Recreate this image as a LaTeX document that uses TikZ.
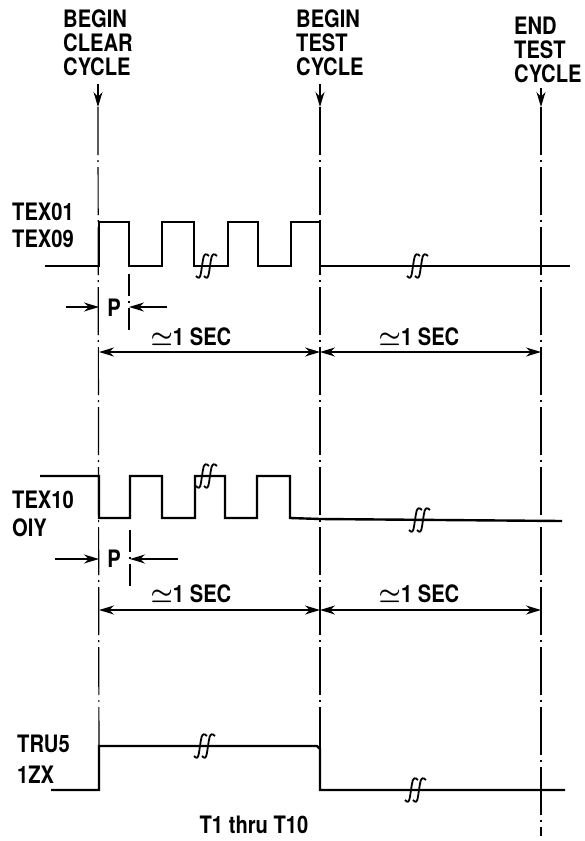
\documentclass[tikz,border=0pt]{standalone}
\usepackage{amsmath}
\usepackage{fontspec}
\setmainfont{TeX Gyre Heros}[FakeStretch=0.84]
\usetikzlibrary{arrows.meta}
\newcommand\brkmark[2]{%
  \begin{scope}[shift={(#1,#2)}]
    \draw[brk] (-11,10) .. controls (-6,16) and (-6,5) .. (-5,0) .. controls (-4,-5) and (-4,-16) .. (2,-10);
    \draw[brk] (-3,10) .. controls (2,16) and (2,5) .. (3,0) .. controls (4,-5) and (4,-16) .. (10,-10);
  \end{scope}}
\begin{document}
\begin{tikzpicture}[x=1pt,y=-1pt,
  sig/.style={line width=2.4pt, line join=miter},
  guide/.style={line width=1.2pt, dash pattern=on 48pt off 5pt on 2pt off 5pt},
  pguide/.style={line width=1.2pt, dash pattern=on 22pt off 5pt on 2pt off 5pt},
  dim/.style={line width=1.4pt},
  tip/.style={-{Stealth[length=15pt,width=9pt]}},
  dtip/.style={{Stealth[length=15pt,width=9pt]}-{Stealth[length=15pt,width=9pt]}},
  brk/.style={line width=1.8pt},
  lbl/.style={font=\fontsize{24}{28}\selectfont\bfseries, inner sep=0pt, anchor=west},
  clbl/.style={font=\fontsize{24}{28}\selectfont\bfseries, inner sep=0pt, anchor=center}]
\useasboundingbox (0,0) rectangle (584,841);

% top labels
\node[lbl] (bc1) at (63,19) {BEGIN};
\node[lbl] (bc2) at (63,43) {CLEAR};
\node[lbl] (bc3) at (63,67) {CYCLE};
\node[lbl] (bt1) at (296,19) {BEGIN};
\node[lbl] (bt2) at (296,43) {TEST};
\node[lbl] (bt3) at (296,67) {CYCLE};
\node[lbl] (et1) at (514,26) {END};
\node[lbl] (et2) at (514,50) {TEST};
\node[lbl] (et3) at (514,74) {CYCLE};

% cycle arrows
\coordinate (a1s) at (98,84);  \coordinate (a1e) at (98,107);
\coordinate (a2s) at (320,84); \coordinate (a2e) at (320,107);
\coordinate (a3s) at (541,88); \coordinate (a3e) at (541,107);
\draw[dim,tip] (a1s) -- (a1e);
\draw[dim,tip] (a2s) -- (a2e);
\draw[dim,tip] (a3s) -- (a3e);

% guide lines
\draw[guide] (a1e) -- (99,790);
\draw[guide] (a2e) -- (320,790);
\draw[guide] (a3e) -- (541,836);

% signal labels
\node[lbl] (s1a) at (12,212) {TEX01};
\node[lbl] (s1b) at (12,239) {TEX09};
\node[lbl] (s2a) at (12,500) {TEX10};
\node[lbl] (s2b) at (12,528) {OIY};
\node[lbl] (s3a) at (17,744) {TRU5};
\node[lbl] (s3b) at (17,775) {1ZX};

% TEX01 / TEX09
\draw[sig] (45,266) -- (99,266) -- (99,222) -- (129,222) -- (129,266) -- (162,266)
  -- (162,222) -- (194,222) -- (194,266) -- (228,266) -- (228,222) -- (258,222)
  -- (258,266) -- (291,266) -- (291,222) -- (320,222) -- (320,266) -- (570,266);
\brkmark{207}{266}
\brkmark{418}{266}

% P marker 1
\draw[pguide] (129,274) -- (129,333);
\coordinate (p1l) at (66,307); \coordinate (p1la) at (99,307);
\coordinate (p1r) at (167,307); \coordinate (p1ra) at (129,307);
\draw[dim,tip] (p1l) -- (p1la);
\draw[dim,tip] (p1r) -- (p1ra);
\node[clbl] (p1) at (114,308) {P};

% 1 SEC dims (first)
\coordinate (d1a) at (99,352); \coordinate (d1b) at (320,352); \coordinate (d1c) at (541,352);
\draw[dim,dtip] (d1a) -- (d1b);
\draw[dim,dtip] (d1b) -- (d1c);
\node[clbl] (t1) at (191,337) {$\boldsymbol{\simeq}$1 SEC};
\node[clbl] (t2) at (419,337) {$\boldsymbol{\simeq}$1 SEC};

% TEX10 / OIY
\draw[sig] (40,476) -- (99,476) -- (99,518) -- (130,518) -- (130,476) -- (162,476)
  -- (162,518) -- (195,518) -- (195,476) -- (225,476) -- (225,518) -- (257,518)
  -- (257,476) -- (290,476) -- (290,518) -- (320,519) -- (562,521);
\brkmark{207}{476}
\brkmark{420}{520}

% P marker 2
\draw[pguide] (130,530) -- (130,588);
\coordinate (p2l) at (55,559); \coordinate (p2la) at (99,559);
\coordinate (p2r) at (178,559); \coordinate (p2ra) at (130,559);
\draw[dim,tip] (p2l) -- (p2la);
\draw[dim,tip] (p2r) -- (p2ra);
\node[clbl] (p2) at (114,559) {P};

% 1 SEC dims (second)
\coordinate (d2a) at (99,610); \coordinate (d2b) at (320,610); \coordinate (d2c) at (541,610);
\draw[dim,dtip] (d2a) -- (d2b);
\draw[dim,dtip] (d2b) -- (d2c);
\node[clbl] (t3) at (191,594) {$\boldsymbol{\simeq}$1 SEC};
\node[clbl] (t4) at (419,594) {$\boldsymbol{\simeq}$1 SEC};

% TRU5 / 1ZX
\draw[sig] (51,790) -- (99,790) -- (99,746) -- (317,746) -- (320,749) -- (320,790) -- (565,790);
\brkmark{205}{746}
\brkmark{416}{790}

\node[clbl] (foot) at (254,825) {T1 thru T10};
\end{tikzpicture}
\end{document}
